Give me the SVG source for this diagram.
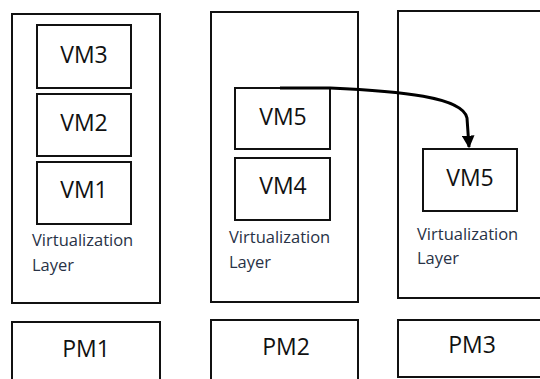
<svg xmlns="http://www.w3.org/2000/svg" width="540" height="379" viewBox="0 0 540 379">
  <style>
    .box { fill: #fff; stroke: #111; stroke-width: 2; }
    .vm { font-family: "Open Sans", "Liberation Sans", sans-serif; font-size: 23px; fill: #111; text-anchor: middle; }
    .layer { font-family: "Open Sans", "Liberation Sans", sans-serif; font-size: 16.5px; fill: #283246; }
    .link { fill: none; stroke: #000; stroke-width: 3; }
  </style>
  <defs>
    <marker id="head" viewBox="0 0 10 10" refX="9" refY="5" markerWidth="4.2" markerHeight="4.2" orient="auto" markerUnits="strokeWidth">
      <path d="M0 0 L10 5 L0 10 Z" fill="#000"/>
    </marker>
  </defs>
  <rect width="540" height="379" fill="#fff"/>

  <!-- host 1 -->
  <g id="host1">
    <rect class="box" x="12" y="14" width="148" height="289"/>
    <text class="layer" x="32" y="246">Virtualization</text>
    <text class="layer" x="32" y="271">Layer</text>
  </g>
  <g id="vm3">
    <rect class="box" x="37" y="25" width="94" height="63"/>
    <text class="vm" x="84" y="63">VM3</text>
  </g>
  <g id="vm2">
    <rect class="box" x="37" y="94" width="94" height="62"/>
    <text class="vm" x="84" y="131">VM2</text>
  </g>
  <g id="vm1">
    <rect class="box" x="37" y="162" width="94" height="62"/>
    <text class="vm" x="84" y="198">VM1</text>
  </g>
  <g id="pm1">
    <rect class="box" x="12" y="322" width="148" height="70"/>
    <text class="vm" x="86" y="357">PM1</text>
  </g>

  <!-- host 2 -->
  <g id="host2">
    <rect class="box" x="211" y="12" width="147" height="290"/>
    <text class="layer" x="229" y="243">Virtualization</text>
    <text class="layer" x="229" y="268">Layer</text>
  </g>
  <g id="vm5-src">
    <rect class="box" x="235" y="88" width="95" height="61"/>
    <text class="vm" x="283" y="125">VM5</text>
  </g>
  <g id="vm4">
    <rect class="box" x="235" y="158" width="95" height="62"/>
    <text class="vm" x="283" y="194">VM4</text>
  </g>
  <g id="pm2">
    <rect class="box" x="211" y="320" width="147" height="70"/>
    <text class="vm" x="286" y="355">PM2</text>
  </g>

  <!-- host 3 -->
  <g id="host3">
    <rect class="box" x="398" y="11" width="150" height="287"/>
    <text class="layer" x="417" y="240">Virtualization</text>
    <text class="layer" x="417" y="264">Layer</text>
  </g>
  <g id="vm5-dst">
    <rect class="box" x="423" y="149" width="94" height="62"/>
    <text class="vm" x="470" y="186">VM5</text>
  </g>
  <g id="pm3">
    <rect class="box" x="398" y="320" width="150" height="57"/>
    <text class="vm" x="472" y="353">PM3</text>
  </g>

  <!-- migration connector -->
  <g id="connectors">
    <path class="link" d="M280 88 L330 88 C400 91 463 97 467 118 L469 147" marker-end="url(#head)"/>
  </g>
</svg>
